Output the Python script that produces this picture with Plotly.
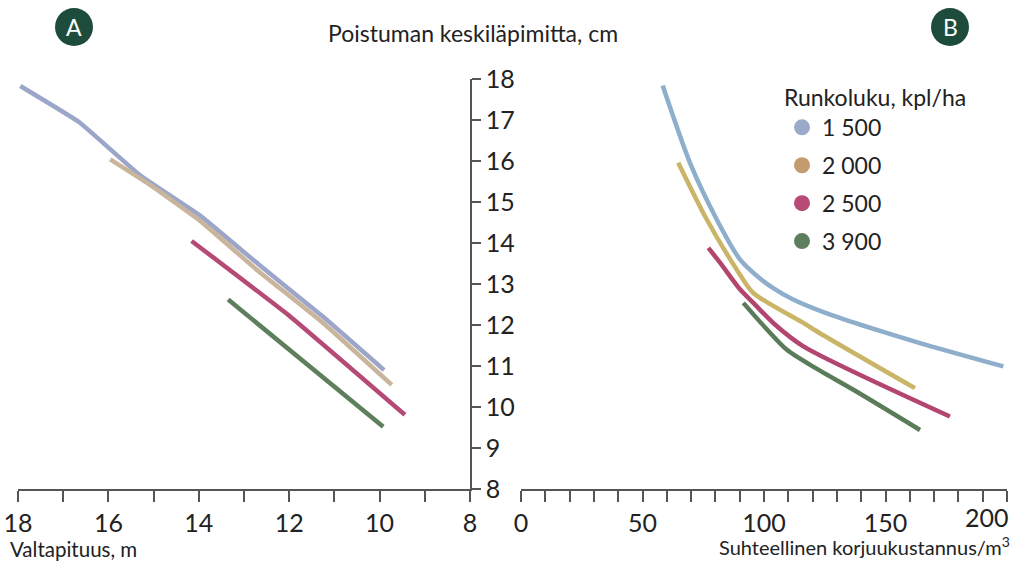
import plotly.graph_objects as go

# Stand density classes (stems per hectare)
density_labels = ["1 500", "2 000", "2 500", "3 900"]
legend_colors = ["#9aaac8", "#c49b6c", "#b84a76", "#5e7f5e"]
a_colors = ["#9ba6c8", "#c9b59c", "#b54a77", "#5e7f5c"]
b_colors = ["#8eaecb", "#c9b468", "#b2466f", "#5b7c58"]

# Panel A: dominant height (m) -> mean diameter of removal (cm)
a_x = [
    [17.95, 16.65, 15.3, 13.95, 12.7, 11.25, 9.9],
    [15.96, 15.15, 13.97, 12.72, 11.25, 9.73],
    [14.16, 11.98, 9.44],
    [13.35, 9.92],
]
a_y = [
    [17.83, 16.95, 15.65, 14.65, 13.5, 12.2, 10.9],
    [16.04, 15.47, 14.54, 13.35, 12.05, 10.54],
    [14.05, 12.21, 9.81],
    [12.62, 9.52],
]

# Panel B: relative harvesting cost per m3 -> mean diameter of removal (cm)
b_x = [
    [58.3, 69.5, 80.5, 90.1, 97, 103.8, 112, 125, 140, 164.2, 198.5],
    [64.7, 76.4, 88.8, 95.6, 116.2, 123, 162.1],
    [77.1, 81.9, 90.1, 95.6, 103.8, 116.2, 176.5],
    [91.5, 100, 109.3, 120, 136.8, 164.2],
]
b_y = [
    [17.84, 15.96, 14.58, 13.6, 13.2, 12.9, 12.62, 12.3, 12.0, 11.56, 10.99],
    [15.96, 14.58, 13.35, 12.78, 12.05, 11.8, 10.46],
    [13.88, 13.52, 12.87, 12.54, 12.05, 11.48, 9.77],
    [12.54, 11.97, 11.4, 10.99, 10.42, 9.44],
]

W, H = 1020, 564
FONT = "Lato"
TXT = "#222222"
AX = "#555555"
TICK_SIZE = 25

fig = go.Figure()

for xs, ys, c in zip(a_x, a_y, a_colors):
    fig.add_trace(go.Scatter(x=xs, y=ys, mode="lines", xaxis="x", yaxis="y",
                             line=dict(color=c, width=4.5, shape="spline", smoothing=0.3),
                             showlegend=False, hoverinfo="skip"))

for xs, ys, c in zip(b_x, b_y, b_colors):
    fig.add_trace(go.Scatter(x=xs, y=ys, mode="lines", xaxis="x2", yaxis="y",
                             line=dict(color=c, width=4.5, shape="spline", smoothing=0.7),
                             showlegend=False, hoverinfo="skip"))

# Legend entries shown as round dots
for name, c in zip(density_labels, legend_colors):
    fig.add_trace(go.Scatter(x=[None], y=[None], mode="markers", xaxis="x2", yaxis="y",
                             marker=dict(size=16, color=c), name=name, legendgroup=name))

common_axis = dict(showgrid=False, zeroline=False, linecolor=AX, linewidth=1.5,
                   tickcolor=AX, tickwidth=1.5,
                   tickfont=dict(size=TICK_SIZE, color=TXT, family=FONT))
inner_ticks = dict(showgrid=False, zeroline=False, showline=False, showticklabels=False,
                   ticks="inside", tickcolor=AX, tickwidth=1.5)

fig.update_layout(
    width=W, height=H,
    margin=dict(l=0, r=0, t=0, b=0, autoexpand=False),
    paper_bgcolor="white", plot_bgcolor="white",
    font=dict(family=FONT, color=TXT),
    xaxis=dict(domain=[18 / W, 470 / W], range=[18, 8], autorange=False, anchor="y",
               showline=True, ticks="outside", ticklen=11, tick0=8, dtick=2,
               minor=dict(dtick=1, ticks="outside", ticklen=11, tickwidth=1.5, tickcolor=AX),
               **common_axis),
    xaxis2=dict(domain=[521 / W, 1007 / W], range=[0, 200], autorange=False, anchor="y",
                showline=True, ticks="outside", ticklen=11, tick0=0, dtick=50,
                minor=dict(dtick=10, ticks="outside", ticklen=11, tickwidth=1.5, tickcolor=AX),
                **common_axis),
    yaxis=dict(domain=[1 - 489 / H, 1 - 79 / H], range=[8, 18], autorange=False, anchor="x",
               side="right", showline=True, ticks="outside", ticklen=9, dtick=1,
               **common_axis),
    xaxis3=dict(overlaying="x", anchor="y", range=[18, 8], autorange=False, dtick=1, ticklen=6,
                **inner_ticks),
    xaxis4=dict(overlaying="x2", anchor="y", range=[0, 200], autorange=False, dtick=10, ticklen=6,
                **inner_ticks),
    yaxis2=dict(overlaying="y", anchor="x", side="right", range=[8, 18], autorange=False,
                dtick=1, ticklen=8, **inner_ticks),
    legend=dict(x=782 / W, y=1 - 76 / H, xanchor="left", yanchor="top",
                title=dict(text="Runkoluku, kpl/ha", font=dict(size=23, color=TXT, family=FONT)),
                font=dict(size=23, color=TXT, family=FONT),
                bgcolor="rgba(0,0,0,0)", tracegroupgap=5, traceorder="grouped"),
    showlegend=True,
)

# The last cost label sits at the right edge, so it is right-aligned to stay on the page
fig.add_annotation(text="200", xref="x2", x=200, xanchor="right", xshift=4,
                   yref="paper", y=1 - 517 / H, yanchor="middle", showarrow=False,
                   font=dict(size=TICK_SIZE, color=TXT, family=FONT))

# Panel badges
for letter, cx in (("A", 74), ("B", 950)):
    fig.add_shape(type="circle", xref="paper", yref="paper",
                  x0=(cx - 19) / W, x1=(cx + 19) / W,
                  y0=1 - (27 + 19) / H, y1=1 - (27 - 19) / H,
                  fillcolor="#1e4c3c", line=dict(width=0))
    fig.add_annotation(text=letter, x=cx / W, y=1 - 27 / H, xref="paper", yref="paper",
                       xanchor="center", yanchor="middle", showarrow=False,
                       font=dict(size=23, color="white", family=FONT))

fig.add_annotation(text="Poistuman keskiläpimitta, cm", x=473 / W, y=1 - 33 / H,
                   xref="paper", yref="paper", xanchor="center", yanchor="middle",
                   showarrow=False, font=dict(size=23, color=TXT, family=FONT))
fig.add_annotation(text="Valtapituus, m", x=8 / W, y=1 - 549 / H,
                   xref="paper", yref="paper", xanchor="left", yanchor="middle",
                   showarrow=False, font=dict(size=20.5, color=TXT, family=FONT))
fig.add_annotation(text="Suhteellinen korjuukustannus/m<sup>3</sup>", x=1012 / W, y=1 - 546 / H,
                   xref="paper", yref="paper", xanchor="right", yanchor="middle",
                   showarrow=False, font=dict(size=20, color=TXT, family=FONT))

fig.write_html("out.html")
